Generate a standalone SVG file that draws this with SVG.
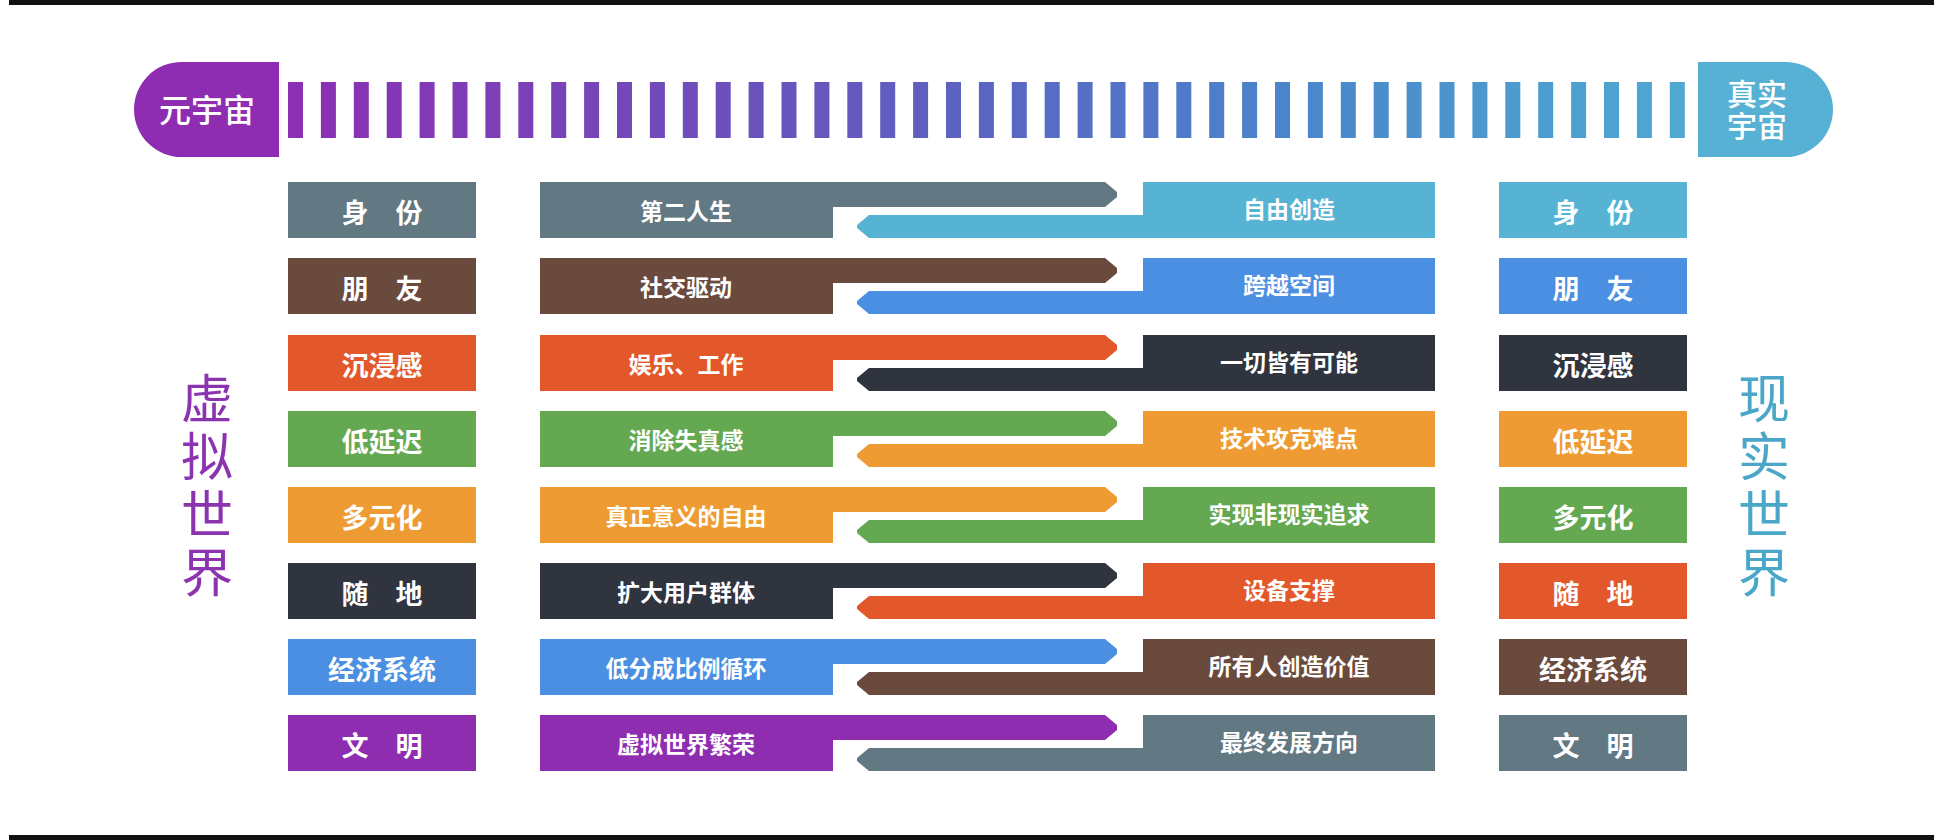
<svg xmlns="http://www.w3.org/2000/svg" width="1946" height="840" viewBox="0 0 1946 840">
<defs>
<linearGradient id="barGrad" gradientUnits="userSpaceOnUse" x1="288" y1="0" x2="1684" y2="0">
<stop offset="0" stop-color="#8C2FB2"/>
<stop offset="0.45" stop-color="#5F5EC0"/>
<stop offset="0.72" stop-color="#4A86CB"/>
<stop offset="1" stop-color="#4FA9D2"/>
</linearGradient>
<style>
.t{font-family:"Noto Sans CJK SC","Noto Sans",sans-serif;fill:#fff;text-anchor:middle}
.col{font-size:27px;font-weight:bold}
.mid{font-size:23px;font-weight:bold}
.side{font-family:"Noto Sans CJK SC","Noto Sans",sans-serif;font-size:52px;writing-mode:vertical-rl;letter-spacing:6px}
.slate{fill:#627882}
.brown{fill:#6A4A3D}
.red{fill:#E2582B}
.green{fill:#64A852}
.orange{fill:#EE9B33}
.dark{fill:#2F343E}
.blue{fill:#4A8FE2}
.purple{fill:#8E2DB0}
.cyan{fill:#56B3D3}
.bar{fill:url(#barGrad)}
</style>
</defs>
<rect x="9" y="0" width="1925" height="5" fill="#111"/>
<rect x="9" y="835" width="1925" height="5" fill="#111"/>

<g id="metaverse">
<path d="M279,62 V157 H181.5 A47.5,47.5 0 0 1 181.5,62 Z" fill="#8E2DB2"/>
<text class="t" x="207" y="122" style="font-size:32px;font-weight:500">元宇宙</text>
</g>
<g id="real-universe">
<path d="M1698,62 H1785.5 A47.5,47.5 0 0 1 1785.5,157 H1698 Z" fill="#56B1D4"/>
<text class="t" style="font-size:30px;font-weight:500"><tspan x="1757" y="105">真实</tspan><tspan x="1757" y="137">宇宙</tspan></text>
</g>
<g id="timeline">
<rect class="bar" x="288" y="82" width="15" height="56"/>
<rect class="bar" x="320.9" y="82" width="15" height="56"/>
<rect class="bar" x="353.8" y="82" width="15" height="56"/>
<rect class="bar" x="386.7" y="82" width="15" height="56"/>
<rect class="bar" x="419.6" y="82" width="15" height="56"/>
<rect class="bar" x="452.5" y="82" width="15" height="56"/>
<rect class="bar" x="485.4" y="82" width="15" height="56"/>
<rect class="bar" x="518.3" y="82" width="15" height="56"/>
<rect class="bar" x="551.2" y="82" width="15" height="56"/>
<rect class="bar" x="584.1" y="82" width="15" height="56"/>
<rect class="bar" x="617" y="82" width="15" height="56"/>
<rect class="bar" x="649.9" y="82" width="15" height="56"/>
<rect class="bar" x="682.8" y="82" width="15" height="56"/>
<rect class="bar" x="715.7" y="82" width="15" height="56"/>
<rect class="bar" x="748.6" y="82" width="15" height="56"/>
<rect class="bar" x="781.5" y="82" width="15" height="56"/>
<rect class="bar" x="814.4" y="82" width="15" height="56"/>
<rect class="bar" x="847.3" y="82" width="15" height="56"/>
<rect class="bar" x="880.2" y="82" width="15" height="56"/>
<rect class="bar" x="913.1" y="82" width="15" height="56"/>
<rect class="bar" x="946" y="82" width="15" height="56"/>
<rect class="bar" x="978.9" y="82" width="15" height="56"/>
<rect class="bar" x="1011.8" y="82" width="15" height="56"/>
<rect class="bar" x="1044.7" y="82" width="15" height="56"/>
<rect class="bar" x="1077.6" y="82" width="15" height="56"/>
<rect class="bar" x="1110.5" y="82" width="15" height="56"/>
<rect class="bar" x="1143.4" y="82" width="15" height="56"/>
<rect class="bar" x="1176.3" y="82" width="15" height="56"/>
<rect class="bar" x="1209.2" y="82" width="15" height="56"/>
<rect class="bar" x="1242.1" y="82" width="15" height="56"/>
<rect class="bar" x="1275" y="82" width="15" height="56"/>
<rect class="bar" x="1307.9" y="82" width="15" height="56"/>
<rect class="bar" x="1340.8" y="82" width="15" height="56"/>
<rect class="bar" x="1373.7" y="82" width="15" height="56"/>
<rect class="bar" x="1406.6" y="82" width="15" height="56"/>
<rect class="bar" x="1439.5" y="82" width="15" height="56"/>
<rect class="bar" x="1472.4" y="82" width="15" height="56"/>
<rect class="bar" x="1505.3" y="82" width="15" height="56"/>
<rect class="bar" x="1538.2" y="82" width="15" height="56"/>
<rect class="bar" x="1571.1" y="82" width="15" height="56"/>
<rect class="bar" x="1604" y="82" width="15" height="56"/>
<rect class="bar" x="1636.9" y="82" width="15" height="56"/>
<rect class="bar" x="1669.8" y="82" width="15" height="56"/>
</g>

<g id="virtual-world-label">
<text class="side" fill="#8C33B0" x="207" y="372">虚拟世界</text>
</g>
<g id="real-world-label">
<text class="side" fill="#4BA7C8" x="1764" y="372">现实世界</text>
</g>

<g id="row1" transform="translate(0,182)">
<g id="v-identity"><rect class="slate" x="288" y="0" width="188" height="56"/><text class="t col" x="382" y="41" word-spacing="21">身 份</text></g>
<g id="m-second-life"><path class="slate" d="M540,0 H1105 L1117,10 V15 L1105,25 H833 V56 H540 Z"/><text class="t mid" x="686" y="38">第二人生</text></g>
<g id="m-free-create"><path class="cyan" d="M1143,0 H1435 V56 H869 L857,46 V43 L869,33 H1143 Z"/><text class="t mid" x="1289" y="36">自由创造</text></g>
<g id="r-identity"><rect class="cyan" x="1499" y="0" width="188" height="56"/><text class="t col" x="1593" y="41" word-spacing="21">身 份</text></g>
</g>
<g id="row2" transform="translate(0,258)">
<g id="v-friends"><rect class="brown" x="288" y="0" width="188" height="56"/><text class="t col" x="382" y="41" word-spacing="21">朋 友</text></g>
<g id="m-social"><path class="brown" d="M540,0 H1105 L1117,10 V15 L1105,25 H833 V56 H540 Z"/><text class="t mid" x="686" y="38">社交驱动</text></g>
<g id="m-cross-space"><path class="blue" d="M1143,0 H1435 V56 H869 L857,46 V43 L869,33 H1143 Z"/><text class="t mid" x="1289" y="36">跨越空间</text></g>
<g id="r-friends"><rect class="blue" x="1499" y="0" width="188" height="56"/><text class="t col" x="1593" y="41" word-spacing="21">朋 友</text></g>
</g>
<g id="row3" transform="translate(0,335)">
<g id="v-immersion"><rect class="red" x="288" y="0" width="188" height="56"/><text class="t col" x="382" y="41">沉浸感</text></g>
<g id="m-fun-work"><path class="red" d="M540,0 H1105 L1117,10 V15 L1105,25 H833 V56 H540 Z"/><text class="t mid" x="686" y="38">娱乐、工作</text></g>
<g id="m-all-possible"><path class="dark" d="M1143,0 H1435 V56 H869 L857,46 V43 L869,33 H1143 Z"/><text class="t mid" x="1289" y="36">一切皆有可能</text></g>
<g id="r-immersion"><rect class="dark" x="1499" y="0" width="188" height="56"/><text class="t col" x="1593" y="41">沉浸感</text></g>
</g>
<g id="row4" transform="translate(0,411)">
<g id="v-latency"><rect class="green" x="288" y="0" width="188" height="56"/><text class="t col" x="382" y="41">低延迟</text></g>
<g id="m-no-distortion"><path class="green" d="M540,0 H1105 L1117,10 V15 L1105,25 H833 V56 H540 Z"/><text class="t mid" x="686" y="38">消除失真感</text></g>
<g id="m-tech"><path class="orange" d="M1143,0 H1435 V56 H869 L857,46 V43 L869,33 H1143 Z"/><text class="t mid" x="1289" y="36">技术攻克难点</text></g>
<g id="r-latency"><rect class="orange" x="1499" y="0" width="188" height="56"/><text class="t col" x="1593" y="41">低延迟</text></g>
</g>
<g id="row5" transform="translate(0,487)">
<g id="v-diverse"><rect class="orange" x="288" y="0" width="188" height="56"/><text class="t col" x="382" y="41">多元化</text></g>
<g id="m-freedom"><path class="orange" d="M540,0 H1105 L1117,10 V15 L1105,25 H833 V56 H540 Z"/><text class="t mid" x="686" y="38">真正意义的自由</text></g>
<g id="m-unreal"><path class="green" d="M1143,0 H1435 V56 H869 L857,46 V43 L869,33 H1143 Z"/><text class="t mid" x="1289" y="36">实现非现实追求</text></g>
<g id="r-diverse"><rect class="green" x="1499" y="0" width="188" height="56"/><text class="t col" x="1593" y="41">多元化</text></g>
</g>
<g id="row6" transform="translate(0,563)">
<g id="v-anywhere"><rect class="dark" x="288" y="0" width="188" height="56"/><text class="t col" x="382" y="41" word-spacing="21">随 地</text></g>
<g id="m-users"><path class="dark" d="M540,0 H1105 L1117,10 V15 L1105,25 H833 V56 H540 Z"/><text class="t mid" x="686" y="38">扩大用户群体</text></g>
<g id="m-devices"><path class="red" d="M1143,0 H1435 V56 H869 L857,46 V43 L869,33 H1143 Z"/><text class="t mid" x="1289" y="36">设备支撑</text></g>
<g id="r-anywhere"><rect class="red" x="1499" y="0" width="188" height="56"/><text class="t col" x="1593" y="41" word-spacing="21">随 地</text></g>
</g>
<g id="row7" transform="translate(0,639)">
<g id="v-economy"><rect class="blue" x="288" y="0" width="188" height="56"/><text class="t col" x="382" y="41">经济系统</text></g>
<g id="m-cycle"><path class="blue" d="M540,0 H1105 L1117,10 V15 L1105,25 H833 V56 H540 Z"/><text class="t mid" x="686" y="38">低分成比例循环</text></g>
<g id="m-value"><path class="brown" d="M1143,0 H1435 V56 H869 L857,46 V43 L869,33 H1143 Z"/><text class="t mid" x="1289" y="36">所有人创造价值</text></g>
<g id="r-economy"><rect class="brown" x="1499" y="0" width="188" height="56"/><text class="t col" x="1593" y="41">经济系统</text></g>
</g>
<g id="row8" transform="translate(0,715)">
<g id="v-civilization"><rect class="purple" x="288" y="0" width="188" height="56"/><text class="t col" x="382" y="41" word-spacing="21">文 明</text></g>
<g id="m-prosperity"><path class="purple" d="M540,0 H1105 L1117,10 V15 L1105,25 H833 V56 H540 Z"/><text class="t mid" x="686" y="38">虚拟世界繁荣</text></g>
<g id="m-direction"><path class="slate" d="M1143,0 H1435 V56 H869 L857,46 V43 L869,33 H1143 Z"/><text class="t mid" x="1289" y="36">最终发展方向</text></g>
<g id="r-civilization"><rect class="slate" x="1499" y="0" width="188" height="56"/><text class="t col" x="1593" y="41" word-spacing="21">文 明</text></g>
</g>
<g id="connectors"></g>
</svg>
